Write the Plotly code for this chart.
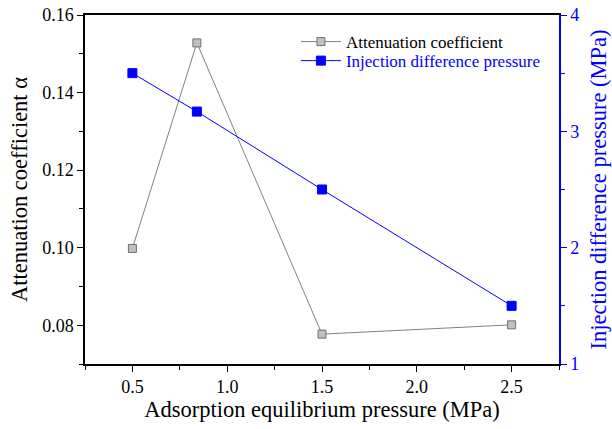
import plotly.graph_objects as go

pressure = [0.5, 0.84, 1.5, 2.5]
attenuation = [0.0998, 0.1528, 0.0777, 0.0801]
injection_dp = [3.5, 3.17, 2.5, 1.5]

FONT = "Liberation Serif, Times New Roman, serif"
BLUE = "#0000ff"

fig = go.Figure()
fig.add_trace(go.Scatter(
    x=pressure, y=attenuation, mode="lines+markers",
    name="Attenuation coefficient",
    line=dict(color="#808080", width=1),
    marker=dict(symbol="square", size=8, color="#c0c0c0",
                line=dict(color="#707070", width=1)),
    yaxis="y", legend="legend"))
fig.add_trace(go.Scatter(
    x=pressure, y=injection_dp, mode="lines+markers",
    name="<span style='color:#0000ff'>Injection difference pressure</span>",
    line=dict(color=BLUE, width=1),
    marker=dict(symbol="square", size=9, color=BLUE,
                line=dict(color=BLUE, width=1)),
    yaxis="y2", legend="legend2"))

leg_common = dict(xanchor="left", yanchor="middle", bgcolor="rgba(0,0,0,0)",
                  font=dict(family=FONT, size=17), itemwidth=40)

fig.update_layout(
    width=612, height=429,
    margin=dict(l=85, r=53, t=15, b=65, autoexpand=False),
    plot_bgcolor="white", paper_bgcolor="white",
    font=dict(family=FONT, size=18, color="black"),
    showlegend=True,
    legend=dict(x=0.445, y=0.9226, **leg_common),
    legend2=dict(x=0.445, y=0.868, **leg_common),
    xaxis=dict(range=[0.25, 2.75], tickmode="array",
               tickvals=[0.5, 1.0, 1.5, 2.0, 2.5],
               ticktext=["0.5", "1.0", "1.5", "2.0", "2.5"],
               tickfont=dict(family=FONT, size=18, color="black"),
               ticks="outside", ticklen=6, tickwidth=1, tickcolor="black",
               minor=dict(ticks="outside", ticklen=4, dtick=0.25, tick0=0.25, tickcolor="black"),
               showline=True, linecolor="black", linewidth=1.5, mirror=True,
               showgrid=False, zeroline=False, automargin=False,
               ticklabeloverflow="allow",
               title=dict(text="Adsorption equilibrium pressure (MPa)",
                          font=dict(family=FONT, size=22.5), standoff=4)),
    yaxis=dict(range=[0.07, 0.16], tickmode="array",
               tickvals=[0.08, 0.10, 0.12, 0.14, 0.16],
               ticktext=["0.08", "0.10", "0.12", "0.14", "0.16"],
               tickfont=dict(family=FONT, size=18, color="black"),
               ticks="outside", ticklen=6, tickwidth=1, tickcolor="black",
               minor=dict(ticks="outside", ticklen=4, dtick=0.01, tick0=0.07, tickcolor="black"),
               showline=True, linecolor="black", linewidth=1.5,
               showgrid=False, zeroline=False, automargin=False,
               ticklabeloverflow="allow",
               title=dict(text="Attenuation coefficient α",
                          font=dict(family=FONT, size=22.5), standoff=8)),
    yaxis2=dict(range=[1, 4], overlaying="y", side="right",
                tickmode="array", tickvals=[1, 2, 3, 4], ticktext=["1", "2", "3", "4"],
                tickfont=dict(family=FONT, size=18, color=BLUE),
                ticks="outside", ticklen=6, tickwidth=1, tickcolor=BLUE,
                minor=dict(ticks="outside", ticklen=4, dtick=0.5, tick0=1, tickcolor=BLUE),
                showline=True, linecolor=BLUE, linewidth=1.5,
                showgrid=False, zeroline=False, automargin=False,
                ticklabeloverflow="allow",
                title=dict(text="Injection difference pressure (MPa)",
                           font=dict(family=FONT, size=22.5, color=BLUE), standoff=12)),
)

fig.write_html("out.html", config={"displayModeBar": False},
               post_script="document.body.style.margin='0px';")
